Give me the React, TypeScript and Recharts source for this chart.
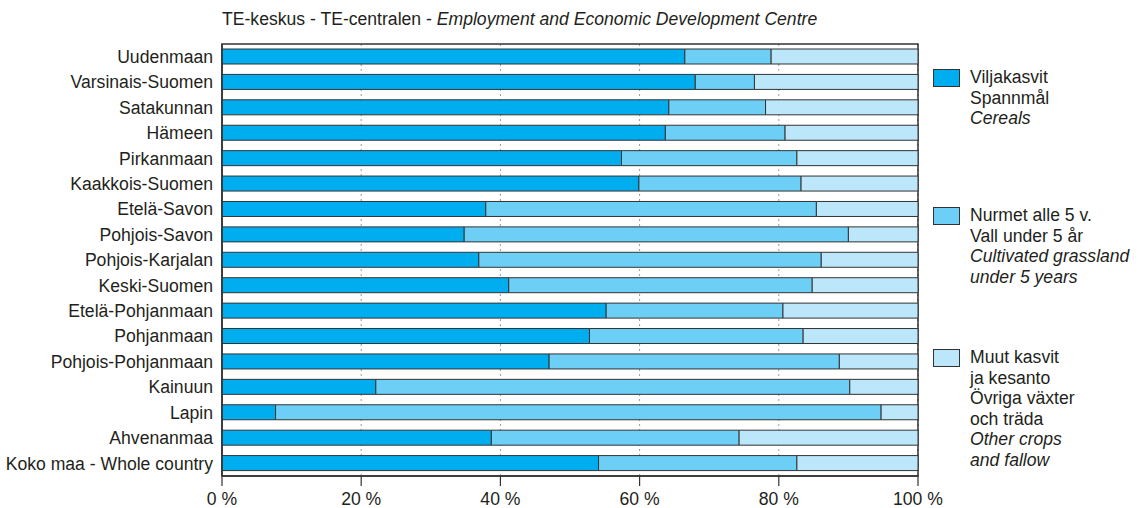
import { BarChart, Bar, XAxis, YAxis, CartesianGrid, ReferenceArea, Legend } from "recharts";

const regions = [
  "Uudenmaan",
  "Varsinais-Suomen",
  "Satakunnan",
  "Hämeen",
  "Pirkanmaan",
  "Kaakkois-Suomen",
  "Etelä-Savon",
  "Pohjois-Savon",
  "Pohjois-Karjalan",
  "Keski-Suomen",
  "Etelä-Pohjanmaan",
  "Pohjanmaan",
  "Pohjois-Pohjanmaan",
  "Kainuun",
  "Lapin",
  "Ahvenanmaa",
  "Koko maa - Whole country",
];

// shares of arable land, %
const cereals = [66.5, 68.0, 64.2, 63.7, 57.4, 59.9, 37.9, 34.8, 36.9, 41.2, 55.2, 52.8, 47.0, 22.1, 7.7, 38.7, 54.1];
const grassland = [12.4, 8.5, 13.9, 17.2, 25.2, 23.3, 47.5, 55.2, 49.2, 43.6, 25.4, 30.7, 41.7, 68.1, 87.0, 35.6, 28.5];
const otherCrops = [21.1, 23.5, 21.9, 19.1, 17.4, 16.8, 14.6, 10.0, 13.9, 15.2, 19.4, 16.5, 11.3, 9.8, 5.3, 25.7, 17.4];

const xTicks = [0, 20, 40, 60, 80, 100];

const seriesInfo = [
  { key: "cereals", color: "#00aeef", lines: ["Viljakasvit", "Spannmål"], italic: ["Cereals"] },
  { key: "grassland", color: "#6dcff6", lines: ["Nurmet alle 5 v.", "Vall under 5 år"], italic: ["Cultivated grassland", "under 5 years"] },
  { key: "other", color: "#bce6f9", lines: ["Muut kasvit", "ja kesanto", "Övriga växter", "och träda"], italic: ["Other crops", "and fallow"] },
];

const data = regions.map((name, i) => ({
  name,
  cereals: cereals[i],
  grassland: grassland[i],
  other: otherCrops[i],
}));

const font = "'Liberation Sans', Arial, Helvetica, sans-serif";
const ink = "#231f20";
const fs = 17.6;
const legendTops = [0, 138, 280];

const LegendBox = () => (
  <div style={{ position: "relative", width: 205, height: 420, fontFamily: font, fontSize: fs, color: ink }}>
    {seriesInfo.map((s, i) => (
      <div key={s.key} style={{ position: "absolute", left: 0, top: legendTops[i] }}>
        <div style={{ position: "absolute", left: 0, top: 2, width: 25, height: 16, background: s.color, border: "1px solid #333" }} />
        <div style={{ position: "absolute", left: 37, top: 0, lineHeight: "20.6px", whiteSpace: "nowrap" }}>
          {s.lines.map((t) => (
            <div key={t}>{t}</div>
          ))}
          {s.italic.map((t) => (
            <div key={t} style={{ fontStyle: "italic" }}>{t}</div>
          ))}
        </div>
      </div>
    ))}
  </div>
);

export default function App() {
  return (
    <div style={{ position: "absolute", left: 0, top: 0, width: 1138, height: 508, background: "#fff", fontFamily: font }}>
      <div style={{ position: "absolute", left: 222, top: 9, fontSize: fs, color: ink, whiteSpace: "nowrap" }}>
        TE-keskus - TE-centralen - <i>Employment and Economic Development Centre</i>
      </div>
      <BarChart
        width={1138}
        height={508}
        data={data}
        layout="vertical"
        barSize={15}
        margin={{ top: 44, right: 220, bottom: 0, left: 0 }}
      >
        <CartesianGrid horizontal={false} vertical stroke="#999" strokeDasharray="2 3" />
        <XAxis
          type="number"
          domain={[0, 100]}
          ticks={xTicks}
          tickFormatter={(v) => `${v} %`}
          height={32}
          tickSize={10}
          tickMargin={7}
          axisLine={{ stroke: "#333", strokeWidth: 1.5 }}
          tickLine={{ stroke: "#333", strokeWidth: 1.2 }}
          tick={{ fill: ink, fontSize: fs, fontFamily: font }}
          interval={0}
        />
        <YAxis
          type="category"
          dataKey="name"
          width={222}
          tickSize={0}
          tickMargin={9}
          tickLine={false}
          axisLine={{ stroke: "#333", strokeWidth: 1.5 }}
          tick={{ fill: ink, fontSize: fs, fontFamily: font }}
          interval={0}
        />
        <Legend
          layout="vertical"
          verticalAlign="middle"
          align="center"
          content={() => <LegendBox />}
          wrapperStyle={{ position: "absolute", left: 933, top: 67, width: 205, height: 420 }}
        />
        {seriesInfo.map((s) => (
          <Bar key={s.key} dataKey={s.key} stackId="a" fill={s.color} stroke="#333" strokeWidth={1} isAnimationActive={false} />
        ))}
        <ReferenceArea x1={0} x2={100} fill="none" stroke="#333" strokeWidth={1.5} ifOverflow="visible" />
      </BarChart>
    </div>
  );
}
